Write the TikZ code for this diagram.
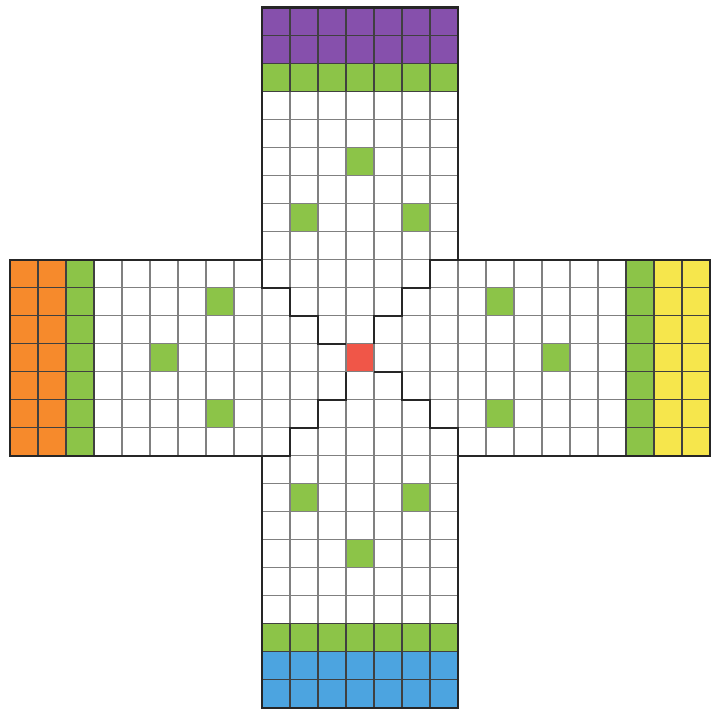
\documentclass[tikz,border=0pt]{standalone}
\usepackage{xcolor}
\usepackage{tikz}

\definecolor{homepurple}{RGB}{134,80,172}
\definecolor{homeorange}{RGB}{246,138,44}
\definecolor{homeyellow}{RGB}{246,230,76}
\definecolor{homeblue}{RGB}{76,164,224}
\definecolor{safegreen}{RGB}{140,196,72}
\definecolor{goalred}{RGB}{240,86,72}

\begin{document}
\begin{tikzpicture}[x=0.5cm,y=0.5cm,
  gridline/.style={draw=black!50,line width=0.8pt,step=1},
  darkgrid/.style={draw=black!75,line width=0.8pt,step=1},
  pathline/.style={draw=black!85,line width=1.1pt}]
\useasboundingbox (-0.36,-0.05) rectangle (25.1,25.27);
% home strips
\fill[homepurple] (9,23) rectangle (16,25);
\fill[safegreen] (9,22) rectangle (16,23);
\fill[homeblue] (9,0) rectangle (16,2);
\fill[safegreen] (9,2) rectangle (16,3);
\fill[homeorange] (0,9) rectangle (2,16);
\fill[safegreen] (2,9) rectangle (3,16);
\fill[homeyellow] (23,9) rectangle (25,16);
\fill[safegreen] (22,9) rectangle (23,16);
% safe cells
\foreach \x/\y in {10/17,14/17,12/19,10/7,14/7,12/5,7/14,7/10,5/12,17/14,17/10,19/12}
  \fill[safegreen] (\x,\y) rectangle ++(1,1);
\fill[goalred] (12,12) rectangle (13,13);
% grid
\draw[gridline] (9,0) grid (16,25);
\draw[gridline] (0,9) grid (25,16);
\draw[darkgrid] (9,22) grid (16,25);
\draw[darkgrid] (9,0) grid (16,3);
\draw[darkgrid] (0,9) grid (3,16);
\draw[darkgrid] (22,9) grid (25,16);
% outline of the board
\draw[pathline] (9,0) -- (16,0) -- (16,9) -- (25,9) -- (25,16) -- (16,16) -- (16,25)
  -- (9,25) -- (9,16) -- (0,16) -- (0,9) -- (9,9) -- cycle;
% stairs to the centre
\draw[pathline] (9,16) -- (9,15) -- (10,15) -- (10,14) -- (11,14) -- (11,13) -- (12,13);
\draw[pathline] (16,16) -- (15,16) -- (15,15) -- (14,15) -- (14,14) -- (13,14) -- (13,13);
\draw[pathline] (16,9) -- (16,10) -- (15,10) -- (15,11) -- (14,11) -- (14,12) -- (13,12);
\draw[pathline] (9,9) -- (10,9) -- (10,10) -- (11,10) -- (11,11) -- (12,11) -- (12,12);
\end{tikzpicture}
\end{document}
